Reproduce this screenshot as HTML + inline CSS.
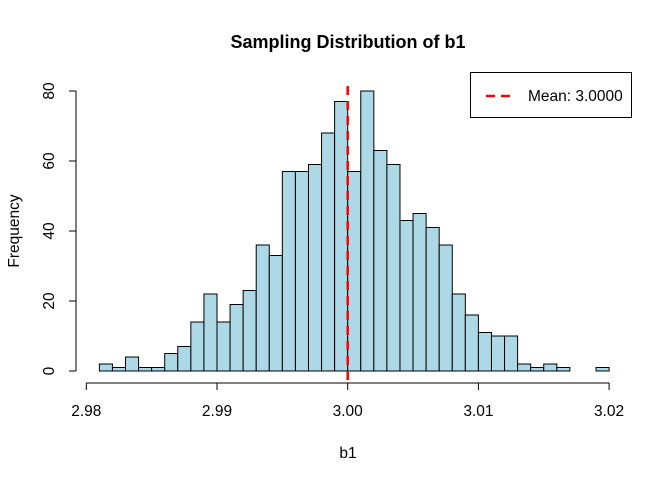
<!DOCTYPE html>
<html><head><meta charset="utf-8"><style>body{margin:0;background:#fff}svg{display:block;font-family:"Liberation Sans",Arial,sans-serif}</style></head>
<body>
<svg id="c" width="672" height="480"></svg>
<script>
const binStarts=[2.981,2.982,2.983,2.984,2.985,2.986,2.987,2.988,2.989,2.990,2.991,2.992,2.993,2.994,2.995,2.996,2.997,2.998,2.999,3.000,3.001,3.002,3.003,3.004,3.005,3.006,3.007,3.008,3.009,3.010,3.011,3.012,3.013,3.014,3.015,3.016,3.017,3.018,3.019];
const counts=[2,1,4,1,1,5,7,14,22,14,19,23,36,33,57,57,59,68,77,57,80,63,59,43,45,41,36,22,16,11,10,10,2,1,2,1,0,0,1];
const xTicks=[2.98,2.99,3.00,3.01,3.02];
const yTicks=[0,20,40,60,80];
const meanVal=3.0;
const binW=0.001;
const NS="http://www.w3.org/2000/svg";
const svg=document.getElementById('c');
const X=v=>347.7+(v-3.0)*13070;
const Y=v=>371-v*3.5;
function mk(t,a,p){const e=document.createElementNS(NS,t);for(const k in a)e.setAttribute(k,a[k]);(p||svg).appendChild(e);return e;}
const bars=mk('g',{});


binStarts.forEach((b,i)=>{if(counts[i]<=0)return;const r=mk('rect',{x:X(b),y:Y(counts[i]),width:X(b+binW)-X(b),height:Y(0)-Y(counts[i]),fill:'#add8e6',stroke:'#000','stroke-width':1},bars);

});
const xa=mk('g',{});


mk('line',{x1:X(xTicks[0]),x2:X(xTicks[xTicks.length-1]),y1:383,y2:383,stroke:'#000'},xa);
xTicks.forEach(t=>{mk('line',{x1:X(t),x2:X(t),y1:383,y2:390,stroke:'#000'},xa);const tx=mk('text',{x:X(t),y:416,'text-anchor':'middle','font-size':15.5},xa);tx.textContent=t.toFixed(2);

});
const ya=mk('g',{});


mk('line',{x1:76,x2:76,y1:Y(0),y2:Y(80),stroke:'#000'},ya);
yTicks.forEach(t=>{mk('line',{x1:69,x2:76,y1:Y(t),y2:Y(t),stroke:'#000'},ya);const tx=mk('text',{x:0,y:0,transform:`translate(54,${Y(t)}) rotate(-90)`,'text-anchor':'middle','font-size':15.5},ya);tx.textContent=t;

});
const ml=mk('line',{x1:X(meanVal),x2:X(meanVal),y1:86,y2:383,stroke:'#f00','stroke-width':2.5,'stroke-dasharray':'9,6'});


</script>
<div style="position:absolute;left:0;top:0;width:672px;height:480px;pointer-events:none">
<svg width="672" height="480" style="position:absolute;left:0;top:0">
<text x="348" y="48" text-anchor="middle" font-size="18" font-weight="bold">Sampling Distribution of b1</text>
<text x="348" y="458" text-anchor="middle" font-size="15.5">b1</text>
<text transform="translate(19,231) rotate(-90)" text-anchor="middle" font-size="15.5">Frequency</text>
<g>
<rect x="470.5" y="72.5" width="161" height="45" fill="#fff" stroke="#000"/>
<line x1="486" x2="514" y1="96" y2="96" stroke="#f00" stroke-width="2.5" stroke-dasharray="9,6"/>
<text x="528" y="101" font-size="15.5">Mean: 3.0000</text>
</g>
</svg></div>
</body></html>
